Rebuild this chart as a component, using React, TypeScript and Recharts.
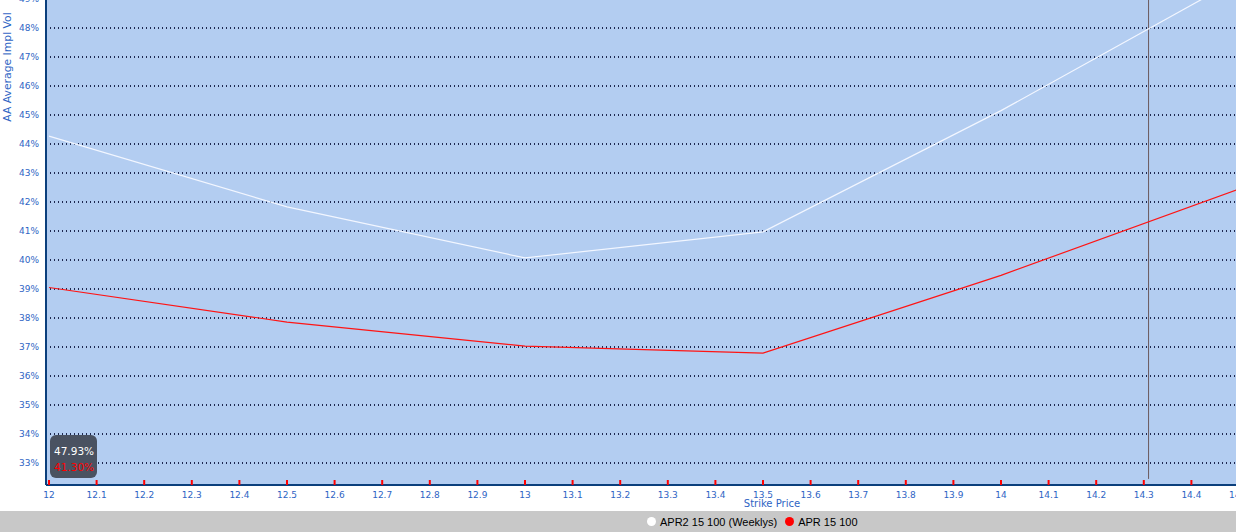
import React from 'react';
import {
  LineChart,
  Line,
  XAxis,
  YAxis,
  CartesianGrid,
  ReferenceLine,
  Legend,
} from 'recharts';

const strikes = [12, 12.5, 13, 13.5, 14, 14.5];
const weeklyVol = [44.27, 41.83, 40.07, 40.97, 45.15, 49.7];
const monthlyVol = [39.05, 37.86, 37.03, 36.79, 39.47, 42.45];

const xTicks = [
  12, 12.1, 12.2, 12.3, 12.4, 12.5, 12.6, 12.7, 12.8, 12.9, 13, 13.1, 13.2,
  13.3, 13.4, 13.5, 13.6, 13.7, 13.8, 13.9, 14, 14.1, 14.2, 14.3, 14.4, 14.5,
];
const yTicks = [33, 34, 35, 36, 37, 38, 39, 40, 41, 42, 43, 44, 45, 46, 47, 48, 49];

const cursorStrike = 14.31;
const cursorValues = ['47.93%', '41.30%'];

const seriesNames = ['APR2 15 100 (Weeklys)', 'APR 15 100'];

const data = strikes.map((s, i) => ({
  strike: s,
  weekly: weeklyVol[i],
  monthly: monthlyVol[i],
}));

const blue = '#2E64C4';
const font = '"DejaVu Sans", sans-serif';

function XTick({ x, y, payload }: any) {
  return (
    <g>
      <rect x={x - 1} y={y - 7} width={2} height={5} fill="#ff0000" />
      <text x={x} y={y + 11} textAnchor="middle" fontSize={9} fill={blue} fontFamily={font}>
        {String(Math.round(payload.value * 10) / 10)}
      </text>
    </g>
  );
}

function YTick({ x, y, payload }: any) {
  return (
    <text x={x - 5} y={y + 3} textAnchor="end" fontSize={9} fill={blue} fontFamily={font}>
      {payload.value}%
    </text>
  );
}

function LegendContent() {
  const colors = ['#ffffff', '#ff0000'];
  return (
    <div
      style={{
        display: 'flex',
        alignItems: 'center',
        height: 21,
        paddingLeft: 647,
        fontFamily: '"Liberation Sans", Arial, sans-serif',
        fontSize: 11,
        color: '#000',
      }}
    >
      {seriesNames.map((n, i) => (
        <span key={n} style={{ display: 'flex', alignItems: 'center', marginRight: 8 }}>
          <span
            style={{
              width: 9,
              height: 9,
              borderRadius: 5,
              background: colors[i],
              marginRight: 4,
              display: 'inline-block',
            }}
          />
          {n}
        </span>
      ))}
    </div>
  );
}

export default function App() {
  return (
    <div
      style={{
        position: 'absolute',
        left: 0,
        top: 0,
        width: 1236,
        height: 532,
        overflow: 'hidden',
        background: '#fff',
      }}
    >
      <div style={{ position: 'absolute', left: 0, top: -1 }}>
        <LineChart
          width={1240}
          height={533}
          data={data}
          margin={{ top: 0, right: 0, bottom: 0, left: 0 }}
        >
          <CartesianGrid
            vertical={false}
            fill="#B3CDF1"
            stroke="#1E2850"
            strokeWidth={2}
            strokeDasharray="1 3"
            horizontalValues={yTicks}
          />
          <XAxis
            dataKey="strike"
            type="number"
            domain={[12, 14.5]}
            ticks={xTicks}
            interval={0}
            padding={{ left: 3, right: 1 }}
            height={26}
            tickSize={0}
            tick={<XTick />}
            axisLine={{ stroke: '#0B3F7C', strokeWidth: 2 }}
            label={{
              content: ({ viewBox }: any) => (
                <text
                  x={viewBox.x + viewBox.width * 0.608}
                  y={viewBox.y + 22}
                  textAnchor="middle"
                  fontSize={10}
                  fill={blue}
                  fontFamily={font}
                >
                  Strike Price
                </text>
              ),
            }}
          />
          <YAxis
            type="number"
            domain={[32.24, 49]}
            ticks={yTicks}
            interval={0}
            allowDataOverflow
            width={46}
            tickSize={0}
            tick={<YTick />}
            axisLine={{ stroke: '#0B3F7C', strokeWidth: 2 }}
            label={{
              content: () => (
                <text
                  x={11}
                  y={68}
                  transform="rotate(-90 11 68)"
                  textAnchor="middle"
                  fontSize={10.8}
                  fill={blue}
                  fontFamily={font}
                >
                  AA Average Impl Vol
                </text>
              ),
            }}
          />
          <ReferenceLine
            segment={[
              { x: cursorStrike, y: 49 },
              { x: cursorStrike, y: 32.45 },
            ]}
            stroke="#6B5A5E"
            strokeWidth={1}
            ifOverflow="visible"
          />
          <Line
            dataKey="weekly"
            stroke="#F2F6FF"
            strokeWidth={1.2}
            dot={false}
            isAnimationActive={false}
          />
          <Line
            dataKey="monthly"
            stroke="#FF1414"
            strokeWidth={1.2}
            dot={false}
            isAnimationActive={false}
          />
          <Legend
            verticalAlign="bottom"
            height={21}
            content={<LegendContent />}
            wrapperStyle={{ left: 0, width: 1236, bottom: 0, background: '#C8C8C8' }}
          />
        </LineChart>
      </div>
      <div
        style={{
          position: 'absolute',
          left: 50,
          top: 435,
          width: 47,
          height: 43,
          background: '#4A5261',
          borderRadius: 6,
          fontFamily: '"DejaVu Sans", sans-serif',
          fontSize: 10.5,
          lineHeight: '16px',
          paddingLeft: 4,
          paddingTop: 8,
          boxSizing: 'border-box',
        }}
      >
        <div style={{ color: '#fff' }}>{cursorValues[0]}</div>
        <div style={{ color: '#ff0000' }}>{cursorValues[1]}</div>
      </div>
    </div>
  );
}
